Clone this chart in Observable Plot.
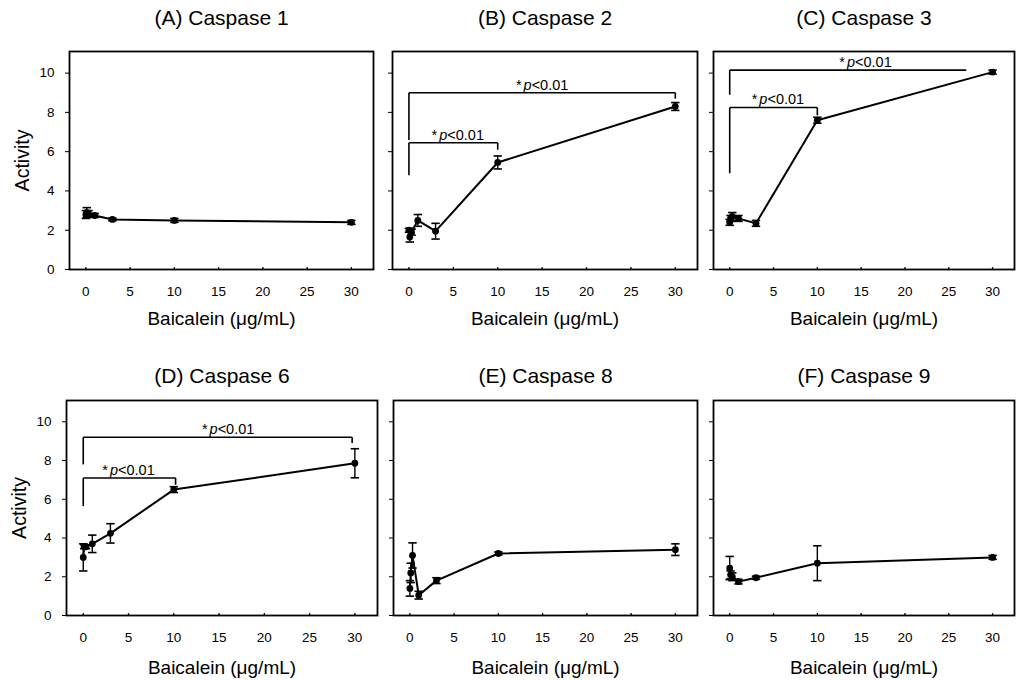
<!DOCTYPE html>
<html><head><meta charset="utf-8">
<script src="https://cdn.jsdelivr.net/npm/d3@7"></script>
<script src="https://cdn.jsdelivr.net/npm/@observablehq/plot@0.6"></script>
<style>
body{margin:0;background:#fff;}
#root{position:relative;width:1019px;height:680px;overflow:hidden;background:#fff;font-family:"Liberation Sans",Arial,sans-serif;}
#root svg{position:absolute;overflow:visible;}
</style></head><body><div id="root"></div>
<script>
// ---- data ----
const doses = [0, 0.1, 0.3, 1, 3, 10, 30];
const titles = ["(A) Caspase 1", "(B) Caspase 2", "(C) Caspase 3", "(D) Caspase 6", "(E) Caspase 8", "(F) Caspase 9"];
const casp1Mean = [2.8, 2.9, 2.85, 2.75, 2.55, 2.5, 2.4];
const casp1Err  = [0.2, 0.25, 0.15, 0.1, 0.07, 0.1, 0.1];
const casp2Mean = [2.0, 1.65, 1.9, 2.5, 1.95, 5.45, 8.3];
const casp2Err  = [0.1, 0.25, 0.15, 0.3, 0.4, 0.33, 0.2];
const casp3Mean = [2.4, 2.6, 2.7, 2.6, 2.35, 7.6, 10.05];
const casp3Err  = [0.15, 0.15, 0.2, 0.15, 0.15, 0.15, 0.1];
const casp6Mean = [3.0, 3.55, 3.55, 3.7, 4.24, 6.5, 7.86];
const casp6Err  = [0.7, 0.1, 0.1, 0.45, 0.5, 0.15, 0.75];
const casp8Mean = [1.4, 2.2, 3.1, 1.05, 1.8, 3.2, 3.4];
const casp8Err  = [0.4, 0.5, 0.65, 0.2, 0.15, 0.08, 0.3];
const casp9Mean = [2.45, 2.1, 2.0, 1.75, 1.95, 2.7, 3.0];
const casp9Err  = [0.6, 0.2, 0.2, 0.12, 0.08, 0.9, 0.1];
const xTicks = [0, 5, 10, 15, 20, 25, 30];
const yTicks = [0, 2, 4, 6, 8, 10];
const xLabel = "Baicalein (\u03bcg/mL)";
const yLabel = "Activity";
const sigLabel = "*p<0.01";
// significance brackets: from dose, to dose, bar level, left/right drop ends, label position
const bracketsB = [
  {from: 0, to: 10, level: 6.45, leftEnd: 4.8, rightEnd: 6.1, labelX: 5.5},
  {from: 0, to: 30, level: 9.0, leftEnd: 6.6, rightEnd: 8.7, labelX: 15}
];
const bracketsC = [
  {from: 0, to: 10, level: 8.25, leftEnd: 4.9, rightEnd: 7.85, labelX: 5.5},
  {from: 0, to: 27, level: 10.15, leftEnd: 8.9, rightEnd: null, labelX: 15.5}
];
const bracketsD = [
  {from: 0, to: 10.2, level: 7.1, leftEnd: 5.65, rightEnd: 6.75, labelX: 5},
  {from: 0, to: 29.7, level: 9.2, leftEnd: 7.8, rightEnd: 8.9, labelX: 16}
];

// ---- layout ----
const panels = [
  {title: titles[0], mean: casp1Mean, err: casp1Err, brackets: []},
  {title: titles[1], mean: casp2Mean, err: casp2Err, brackets: bracketsB},
  {title: titles[2], mean: casp3Mean, err: casp3Err, brackets: bracketsC},
  {title: titles[3], mean: casp6Mean, err: casp6Err, brackets: bracketsD},
  {title: titles[4], mean: casp8Mean, err: casp8Err, brackets: []},
  {title: titles[5], mean: casp9Mean, err: casp9Err, brackets: []}
];
const frames = [
  [69, 51, 373, 269], [392, 51, 697, 269], [713, 51, 1014, 269],
  [66, 400, 377, 615], [393, 400, 697, 615], [713, 400, 1014, 615]
];
const titleOffset = [-33, -24];
const xLabelOffset = [49, 52];
const capSym = {draw(ctx, size) { const r = Math.sqrt(size / Math.PI); ctx.moveTo(-r, 0); ctx.lineTo(r, 0); }};
const upTick = {draw(ctx, size) { const r = Math.sqrt(size / Math.PI); ctx.moveTo(0, 0); ctx.lineTo(0, -r); }};

const root = document.getElementById("root");
const mL = 62, mR = 6, mT = 52, mB = 70;

panels.forEach((p, i) => {
  const [fl, ft, fr, fb] = frames[i];
  const isLeft = i % 3 === 0;
  const row = i < 3 ? 0 : 1;
  const pts = doses.map((x, j) => ({x, y: p.mean[j], e: p.err[j]}));
  const segs = p.brackets.flatMap(b => {
    const s = [
      {x1: b.from, y1: b.level, x2: b.to, y2: b.level},
      {x1: b.from, y1: b.level, x2: b.from, y2: b.leftEnd}
    ];
    if (b.rightEnd != null) s.push({x1: b.to, y1: b.level, x2: b.to, y2: b.rightEnd});
    return s;
  });
  const marks = [
    Plot.frame({stroke: "black", strokeWidth: 1.8}),
    Plot.axisY({ticks: yTicks, tickSize: 4, tickPadding: 11, fontSize: 13.5,
      tickFormat: isLeft ? (d => String(d)) : (() => ""), label: null}),
    Plot.dot(xTicks, {x: d => d, frameAnchor: "bottom", symbol: upTick, r: 2.4, stroke: "black", strokeWidth: 1.3}),
    Plot.axisX({ticks: xTicks, tickSize: 0, tickPadding: 17, fontSize: 13.5, label: null}),
    Plot.text([p.title], {frameAnchor: "top", lineAnchor: "middle", dy: titleOffset[row], fontSize: 21}),
    Plot.text([xLabel], {frameAnchor: "bottom", lineAnchor: "middle", dy: xLabelOffset[row], fontSize: 19}),
    Plot.link(segs, {x1: "x1", y1: "y1", x2: "x2", y2: "y2", stroke: "black", strokeWidth: 1.6}),
    Plot.text(p.brackets, {x: "labelX", y: "level", text: () => sigLabel, lineAnchor: "bottom", dy: -3, fontSize: 14.5}),
    Plot.ruleX(pts, {x: "x", y1: d => d.y - d.e, y2: d => d.y + d.e, stroke: "black", strokeWidth: 1.4}),
    Plot.dot(pts, {x: "x", y: d => d.y + d.e, symbol: capSym, r: 4.2, stroke: "black", strokeWidth: 1.6}),
    Plot.dot(pts, {x: "x", y: d => d.y - d.e, symbol: capSym, r: 4.2, stroke: "black", strokeWidth: 1.6}),
    Plot.line(pts, {x: "x", y: "y", stroke: "black", strokeWidth: 2}),
    Plot.dot(pts, {x: "x", y: "y", r: 3.4, fill: "black"})
  ];
  if (isLeft) marks.push(Plot.text([yLabel], {frameAnchor: "left", textAnchor: "middle", dx: -47, rotate: -90, fontSize: 19.5}));
  const svg = Plot.plot({
    width: (fr - fl) + mL + mR,
    height: (fb - ft) + mT + mB,
    marginLeft: mL, marginRight: mR, marginTop: mT, marginBottom: mB,
    style: {background: "transparent", fontFamily: "'Liberation Sans', Arial, sans-serif", color: "black"},
    x: {domain: [-1.85, 32.5]},
    y: {domain: [0, 11.1]},
    marks
  });
  svg.style.left = (fl - mL) + "px";
  svg.style.top = (ft - mT) + "px";
  root.appendChild(svg);
  d3.select(svg).selectAll("text").each(function() {
    if (this.textContent === sigLabel) {
      const t = d3.select(this);
      t.text(null);
      t.append("tspan").text("*");
      t.append("tspan").attr("font-style", "italic").attr("dx", 2).text("p");
      t.append("tspan").text("<0.01");
    }
  });
});
</script></body></html>
